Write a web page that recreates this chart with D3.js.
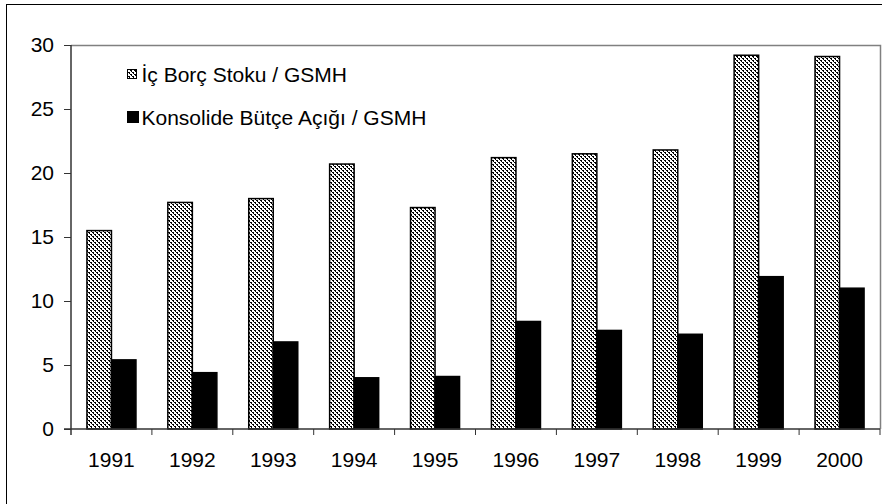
<!DOCTYPE html>
<html>
<head>
<meta charset="utf-8">
<script src="https://cdn.jsdelivr.net/npm/d3@7"></script>
<style>
  html, body { margin: 0; padding: 0; background: #fff; }
  svg { display: block; font-family: "Liberation Sans", Arial, sans-serif; }
</style>
</head>
<body>
<svg id="chart" width="882" height="504"></svg>
<script>
// Yıllar ve GSMH'ye oranlar (%)
const years = ["1991", "1992", "1993", "1994", "1995", "1996", "1997", "1998", "1999", "2000"];
const icBorcStoku = [15.5, 17.7, 18.0, 20.7, 17.3, 21.2, 21.5, 21.8, 29.2, 29.1];
const butceAcigi = [5.4, 4.4, 6.8, 4.0, 4.1, 8.4, 7.7, 7.4, 11.9, 11.0];
const seriesNames = ["İç Borç Stoku / GSMH", "Konsolide Bütçe Açığı / GSMH"];
const yTicks = [0, 5, 10, 15, 20, 25, 30];

const svg = d3.select("#chart");
const plot = { left: 71, top: 45, right: 880, bottom: 429 };
const fontSize = 21;

// Taralı dolgu deseni
const defs = svg.append("defs");
const pat = defs.append("pattern")
  .attr("id", "hatch")
  .attr("patternUnits", "userSpaceOnUse")
  .attr("width", 4).attr("height", 4);
pat.append("rect").attr("width", 4).attr("height", 4).attr("fill", "#fff");
for (let py = 0; py < 4; py++) {
  for (let px = 0; px < 4; px++) {
    const k = ((px - py) % 4 + 4) % 4;
    if (k === 0 || (k === 1 && py % 2 === 0)) {
      pat.append("rect").attr("x", px).attr("y", py).attr("width", 1).attr("height", 1).attr("fill", "#000");
    }
  }
}

// Dış çerçeve
svg.append("rect")
  .attr("x", 6.5).attr("y", 4.5)
  .attr("width", 890).attr("height", 510)
  .attr("fill", "none").attr("stroke", "#000").attr("stroke-width", 1);

const x = d3.scaleBand().domain(years).range([plot.left, plot.right]).paddingInner(0).paddingOuter(0);
const y = d3.scaleLinear().domain([0, 30]).range([plot.bottom, plot.top]);

// Çizim alanı üst ve sağ kenarı
svg.append("path")
  .attr("d", `M${plot.left},${plot.top + 0.5}H${plot.right + 0.5}V${plot.bottom}`)
  .attr("fill", "none").attr("stroke", "#808080").attr("stroke-width", 1.5);

// Çubuklar: her yıl için iki seri yan yana, aralık genişliği %130
const groupW = x.bandwidth() / (1 + 1.3 / 2);
const inner = d3.scaleBand().domain([0, 1]).range([0, groupW]).padding(0);

const g = svg.append("g");
years.forEach((yr, i) => {
  const x0 = x(yr) + (x.bandwidth() - groupW) / 2;
  [icBorcStoku[i], butceAcigi[i]].forEach((v, s) => {
    g.append("rect")
      .attr("x", x0 + inner(s))
      .attr("y", y(v))
      .attr("width", inner.bandwidth())
      .attr("height", y(0) - y(v))
      .attr("fill", s === 0 ? "url(#hatch)" : "#000")
      .attr("stroke", "#000")
      .attr("stroke-width", 1.5);
  });
});

// Y ekseni
const yAxis = d3.axisLeft(y).tickValues(yTicks).tickSize(7).tickPadding(10).tickFormat(d3.format("d"));
const yg = svg.append("g").attr("transform", `translate(${plot.left},0)`).call(yAxis);
yg.select(".domain").attr("stroke", "#333").attr("stroke-width", 1.5).attr("d", `M0,${plot.top}V${plot.bottom + 6}`);
yg.selectAll(".tick line").attr("stroke", "#333");
yg.selectAll(".tick text").attr("font-size", fontSize).attr("fill", "#000").attr("font-family", "Liberation Sans, Arial, sans-serif");

// X ekseni: kategori sınırlarında işaretler
const xg = svg.append("g").attr("transform", `translate(0,${plot.bottom})`);
xg.append("line").attr("x1", plot.left - 7).attr("x2", plot.right).attr("y1", 0).attr("y2", 0)
  .attr("stroke", "#333").attr("stroke-width", 1.5);
const bounds = years.map(d => x(d)).concat([plot.right]);
xg.selectAll("line.tk").data(bounds.slice(1)).join("line").attr("class", "tk")
  .attr("x1", d => d).attr("x2", d => d).attr("y1", 0).attr("y2", 6)
  .attr("stroke", "#333");
xg.selectAll("text").data(years).join("text")
  .attr("x", d => x(d) + x.bandwidth() / 2)
  .attr("y", 38)
  .attr("text-anchor", "middle")
  .attr("font-size", fontSize)
  .attr("fill", "#000")
  .text(d => d);

// Açıklama
const legend = svg.append("g");
const legendRows = [{ y: 74, fill: "url(#hatch)", s: 9, gap: 5 }, { y: 117, fill: "#000", s: 11, gap: 3 }];
legendRows.forEach((r, i) => {
  legend.append("rect")
    .attr("x", 127.5).attr("y", r.y - r.s / 2)
    .attr("width", r.s).attr("height", r.s)
    .attr("fill", r.fill).attr("stroke", "#000").attr("stroke-width", 1);
  legend.append("text")
    .attr("x", 127.5 + r.s + r.gap).attr("y", r.y + 7.5)
    .attr("font-size", fontSize).attr("fill", "#000")
    .text(seriesNames[i]);
});
</script>
</body>
</html>
